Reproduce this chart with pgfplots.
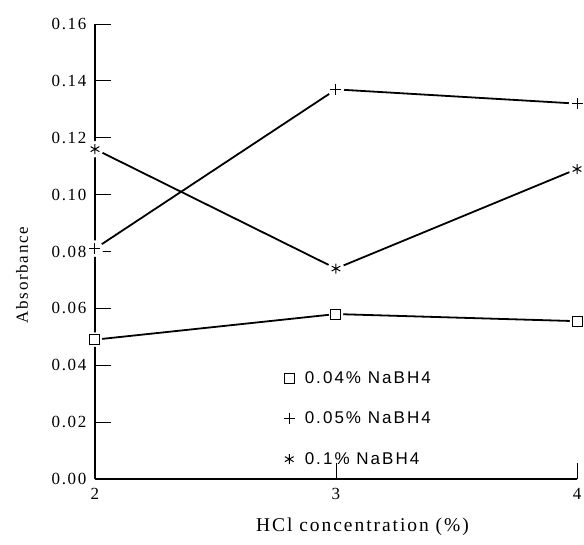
\documentclass[border=0pt]{standalone}
\usepackage{fontspec}
\setmainfont{Liberation Serif}[LetterSpace=10]
\newfontfamily\legfont{Liberation Sans}[LetterSpace=12]
\usepackage{pgfplots}
\usepackage{pgfplotstable}
\pgfplotsset{compat=1.18}

% absorbance vs HCl concentration, one column per NaBH4 level
\pgfplotstableread{
x   a      b      c
2   0.049  0.081  0.116
3   0.058  0.137  0.074
4   0.0555 0.132  0.109
}\absdata

\newcommand\lbl{\fontsize{17}{20}\selectfont}

\begin{document}
\begin{tikzpicture}
\begin{axis}[
  scale only axis, width=482pt, height=455pt,
  xmin=2, xmax=4, ymin=0, ymax=0.16,
  axis x line*=bottom, axis y line*=left,
  axis line style={line width=1.4pt},
  axis on top, clip=false,
  xtick={2,3,4},
  ytick={0,0.02,0.04,0.06,0.08,0.1,0.12,0.14,0.16},
  tick align=inside, major tick length=16pt,
  tick style={line width=0.9pt, black},
  scaled y ticks=false,
  font=\lbl,
  yticklabel style={xshift=-5pt, /pgf/number format/.cd, fixed, fixed zerofill, precision=2, assume math mode=true},
  xticklabel style={yshift=-6pt, /pgf/number format/assume math mode=true},
  xlabel={HCl concentration (\%)},
  ylabel={Absorbance},
  xlabel style={at={(rel axis cs:0.555,-0.1055)}, anchor=center, font=\fontsize{19.5}{22}\selectfont},
  ylabel style={at={(rel axis cs:-0.1515,0.448)}, anchor=center},
  legend style={draw=none, fill=none, font=\legfont\fontsize{17}{20}\selectfont,
    row sep=23pt, column sep=8pt,
    at={(rel axis cs:0.385,0.245)}, anchor=north west},
  legend cell align=left,
]
\addplot[line width=1.8pt, forget plot] table[y=a]{\absdata};
\addplot[line width=1.8pt, forget plot] table[y=b]{\absdata};
\addplot[line width=1.8pt, forget plot] table[y=c]{\absdata};

\addplot[only marks, mark=*, mark size=7pt, white, forget plot] table[y=a]{\absdata};
\addplot[only marks, mark=*, mark size=8pt, white, forget plot] table[y=b]{\absdata};
\addplot[only marks, mark=*, mark size=8pt, white, forget plot] table[y=c]{\absdata};

\addplot[only marks, mark=square, mark size=5pt, line width=1pt, black] table[y=a]{\absdata};
\addlegendentry{0.04\% NaBH4}
\addplot[only marks, mark=+, mark size=5.5pt, line width=1pt, black] table[y=b]{\absdata};
\addlegendentry{0.05\% NaBH4}
\addplot[only marks, mark=asterisk, mark size=5pt, line width=1pt, black] table[y=c]{\absdata};
\addlegendentry{0.1\% NaBH4}
\end{axis}
\pgfresetboundingbox
\path ([shift={(-95pt,-66pt)}]current axis.south west) rectangle ([shift={(7pt,24pt)}]current axis.north east);
\end{tikzpicture}
\end{document}
